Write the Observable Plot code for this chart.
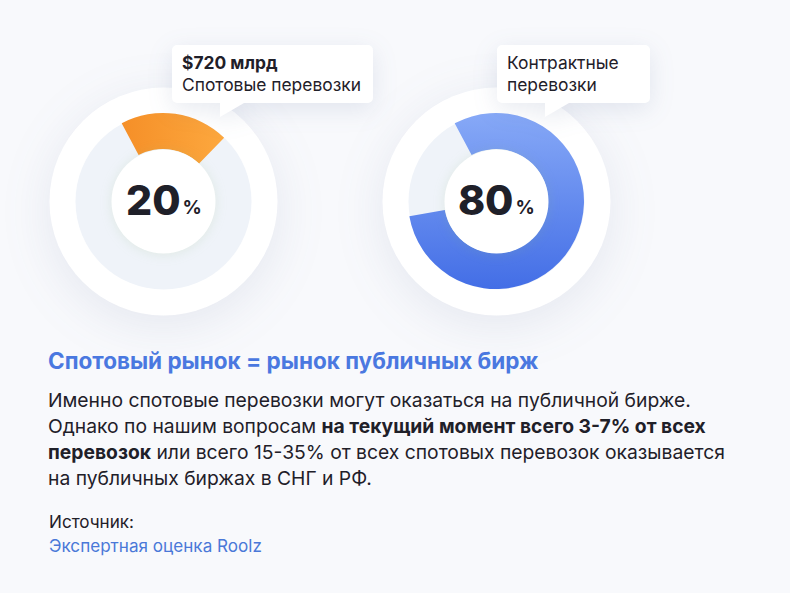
<!DOCTYPE html>
<html>
<head>
<meta charset="utf-8">
<script src="https://cdn.jsdelivr.net/npm/d3@7"></script>
<script src="https://cdn.jsdelivr.net/npm/@observablehq/plot@0.6"></script>
<style>
  html, body { margin: 0; padding: 0; background: #f8f9fc; }
  body { width: 790px; height: 593px; position: relative; overflow: hidden;
         font-family: Inter, "Noto Sans", sans-serif; color: #1f2029; }
  #chart { position: absolute; left: 0; top: 0; }
  .heading { position: absolute; left: 48px; top: 347px; font-size: 22.5px; line-height: 28px;
             font-weight: 700; color: #4a78e0; white-space: nowrap; }
  .para { position: absolute; left: 48px; top: 387px; width: 740px; font-size: 19.3px;
          line-height: 26px; color: #1f2029; white-space: nowrap; }
  .para b { font-weight: 700; }
  .source { position: absolute; left: 49px; top: 510px; font-size: 17.1px; line-height: 24px; color: #1f2029; }
  .source .link { color: #4a78d8; }
</style>
</head>
<body>
<div id="chart"></div>
<div class="heading">Спотовый рынок = рынок публичных бирж</div>
<div class="para">Именно спотовые перевозки могут оказаться на публичной бирже.<br>Однако по нашим вопросам <b>на текущий момент всего 3-7% от всех<br>перевозок</b> или всего 15-35% от всех спотовых перевозок оказывается<br>на публичных биржах в СНГ и РФ.</div>
<div class="source">Источник:<br><span class="link">Экспертная оценка Roolz</span></div>
<script>
// ---- data ----
const categories = ["Спотовые перевозки", "Контрактные перевозки"];
const shares = [20, 80];                       // percent
const calloutTitles = ["$720 млрд", ""];
const calloutLines = [["Спотовые перевозки"], ["Контрактные", "перевозки"]];

// ---- styles (kept apart from data) ----
const gradients = {
  "Спотовые перевозки": {id: "g-spot", x2: 1, y2: 0, from: "#f58f28", to: "#fda83e"},
  "Контрактные перевозки": {id: "g-contract", x2: 0, y2: 1, from: "#87a9f7", to: "#436ee6"}
};
const calloutDx = {"Спотовые перевозки": 9, "Контрактные перевозки": 1};
const textColor = "#1f2029";
const FONT = "Inter, 'Noto Sans', sans-serif";

const donuts = categories.map((c, i) => ({
  category: c, share: shares[i], title: calloutTitles[i], lines: calloutLines[i]
}));

const R_OUTER = 114, R_TRACK = 88, R_INNER = 52;
const angle = d3.scaleLinear().domain([0, 100]).range([0, 2 * Math.PI]);
const START = -28 * Math.PI / 180;

function defsMark() {
  const defs = d3.create("svg:defs");
  for (const c of categories) {
    const g = gradients[c];
    const lg = defs.append("linearGradient").attr("id", g.id)
      .attr("x1", 0).attr("y1", 0).attr("x2", g.x2).attr("y2", g.y2);
    lg.append("stop").attr("offset", "0%").attr("stop-color", g.from);
    lg.append("stop").attr("offset", "100%").attr("stop-color", g.to);
  }
  return defs.node();
}

function arcMark(data) {
  return (index, scales) => {
    const g = d3.create("svg:g");
    const arc = d3.arc().innerRadius(R_INNER).outerRadius(R_TRACK);
    for (const d of data) {
      const cx = scales.x(d.category), cy = scales.y(0);
      g.append("path")
        .attr("transform", `translate(${cx},${cy})`)
        .attr("d", arc({startAngle: START, endAngle: START + angle(d.share)}))
        .attr("fill", `url(#${gradients[d.category].id})`);
    }
    return g.node();
  };
}

const ctx = document.createElement("canvas").getContext("2d");
function textWidth(t, weight, size) {
  ctx.font = `${weight} ${size}px Inter, 'Noto Sans', sans-serif`;
  return ctx.measureText(t).width;
}

function calloutMark(data) {
  return (index, scales) => {
    const g = d3.create("svg:g");
    const FS = 17.4, H = 58, rr = 5, P = 14, PW = 24;
    for (const d of data) {
      const cx = scales.x(d.category), cy = scales.y(0);
      const rows = (d.title ? [{t: d.title, w: 700}] : []).concat(d.lines.map(t => ({t, w: 400})));
      const tw = d3.max(rows, r => textWidth(r.t, r.w, FS));
      const W = Math.max(tw + 22, 153);
      const L = cx + calloutDx[d.category], T = cy - 156, B = T + H, Rt = L + W;
      const px = L + 48;
      const path = `M${L + rr},${T}H${Rt - rr}A${rr},${rr} 0 0 1 ${Rt},${T + rr}V${B - rr}` +
        `A${rr},${rr} 0 0 1 ${Rt - rr},${B}H${px + PW}L${px},${B + P}V${B}H${L + rr}` +
        `A${rr},${rr} 0 0 1 ${L},${B - rr}V${T + rr}A${rr},${rr} 0 0 1 ${L + rr},${T}Z`;
      g.append("path").attr("d", path).attr("fill", "#fff")
        .style("filter", "drop-shadow(0 6px 12px rgba(60,80,130,0.12))");
      rows.forEach((r, k) => {
        g.append("text").attr("x", L + 10).attr("y", T + 24 + 22 * k)
          .attr("text-anchor", "start")
          .attr("font-family", FONT).attr("font-size", FS).attr("font-weight", r.w)
          .attr("fill", textColor).text(r.t);
      });
    }
    return g.node();
  };
}

const chart = Plot.plot({
  width: 790, height: 330, margin: 0,
  style: {background: "transparent", overflow: "visible"},
  x: {type: "point", domain: categories, range: [163, 496], padding: 0, axis: null},
  y: {domain: [-1, 1], range: [402, 0], axis: null},
  marks: [
    defsMark,
    Plot.dot(donuts, {x: "category", y: () => 0, r: R_OUTER, fill: "#ffffff",
      imageFilter: "drop-shadow(0 10px 24px rgba(70,90,140,0.11))"}),
    Plot.dot(donuts, {x: "category", y: () => 0, r: R_TRACK, fill: "#eff3f9"}),
    arcMark(donuts),
    Plot.dot(donuts, {x: "category", y: () => 0, r: R_INNER, fill: "#ffffff",
      imageFilter: "drop-shadow(0 1px 6px rgba(140,185,120,0.16))"}),
    Plot.text(donuts, {x: "category", y: () => 0, text: d => String(d.share), fontSize: 41,
      fontWeight: 800, textAnchor: "end", dx: 17, fill: textColor, fontFamily: FONT}),
    Plot.text(donuts, {x: "category", y: () => 0, text: () => "%", fontSize: 19,
      fontWeight: 700, textAnchor: "start", dx: 19, dy: 6, fill: textColor, fontFamily: FONT}),
    calloutMark(donuts)
  ]
});
document.getElementById("chart").appendChild(chart);
</script>
</body>
</html>
